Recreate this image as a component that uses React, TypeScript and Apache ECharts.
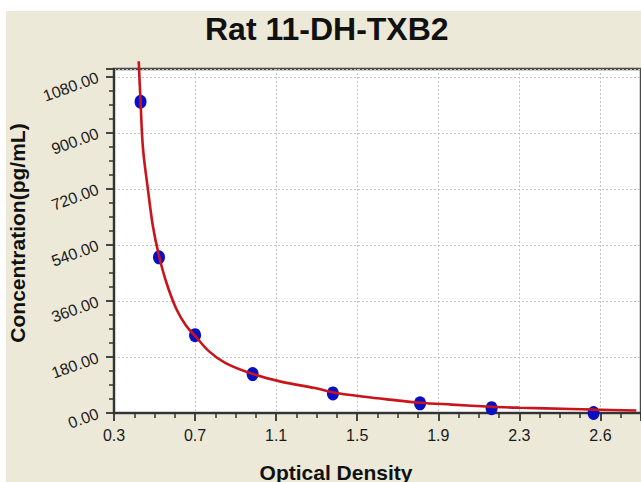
import React, { useEffect, useRef } from "react";
import * as echarts from "echarts";

// Standard points (optical density, concentration pg/mL)
const odPoints = [0.431, 0.522, 0.7, 0.984, 1.38, 1.81, 2.163, 2.666];
const concPoints = [1000, 500, 250, 125, 63, 31, 15.6, 0];

// Fitted curve
const curveOD = [0.422, 0.431, 0.443, 0.468, 0.492, 0.522, 0.558, 0.607, 0.656, 0.7, 0.769, 0.851, 0.985, 1.128, 1.291, 1.382, 1.536, 1.658, 1.81, 1.967, 2.163, 2.3, 2.554, 2.666, 2.877];
const curveConc = [1130, 1000, 850, 715, 600, 505, 420, 335, 280, 248, 198, 160, 125, 100, 80, 66, 52, 43, 33, 27, 20, 17, 13, 11, 8];

// Axis tick labels as printed on the original
const xTickLabels = ["0.3", "0.7", "1.1", "1.5", "1.9", "2.3", "2.6"];
const xOrigin = 0.3;
const xStep = 0.4;
const xMaxOD = 2.9;
const yStep = 180;
const yMax = 1105;

const FONT = "'Liberation Sans', Arial, sans-serif";

export default function App() {
  const ref = useRef<HTMLDivElement>(null);
  useEffect(() => {
    if (!ref.current) return;
    const chart = echarts.init(ref.current, undefined, { renderer: "svg" });
    const pts = odPoints.map((x, i) => [x - xOrigin, concPoints[i]]);
    const curve = curveOD.map((x, i) => [x - xOrigin, curveConc[i]]);
    chart.setOption({
      animation: false,
      backgroundColor: "transparent",
      title: {
        text: "Rat 11-DH-TXB2",
        left: 200,
        top: 8,
        textStyle: { fontSize: 32, fontWeight: "bold", color: "#111", fontFamily: FONT },
      },
      grid: {
        left: 114,
        top: 69,
        width: (xMaxOD - xOrigin) * 204.5,
        height: 344,
        show: true,
        backgroundColor: "#ffffff",
        borderColor: "#4a4a4a",
        borderWidth: 2.5,
      },
      xAxis: {
        type: "value",
        min: 0,
        max: xMaxOD - xOrigin,
        interval: xStep,
        axisLine: { show: true, lineStyle: { color: "#333", width: 2 } },
        axisTick: { show: true, length: 8, lineStyle: { color: "#333", width: 1.8 } },
        minorTick: { show: true, splitNumber: 4, length: 5, lineStyle: { color: "#333", width: 1.5 } },
        splitLine: { show: true, lineStyle: { color: "#c4c4c4", width: 1, type: [2, 2] } },
        axisLabel: {
          margin: 14,
          fontSize: 16,
          color: "#1a1a1a",
          fontFamily: FONT,
          showMaxLabel: false,
          formatter: (v: number) => {
            const i = Math.round(v / xStep);
            return xTickLabels[i] ?? "";
          },
        },
      },
      yAxis: {
        type: "value",
        min: 0,
        max: yMax,
        interval: yStep,
        axisLine: { show: true, lineStyle: { color: "#333", width: 2 } },
        axisTick: { show: true, length: 8, lineStyle: { color: "#333", width: 1.8 } },
        minorTick: { show: true, splitNumber: 4, length: 5, lineStyle: { color: "#333", width: 1.5 } },
        splitLine: { show: true, lineStyle: { color: "#c4c4c4", width: 1, type: [2, 2] } },
        axisLabel: {
          margin: 16,
          rotate: 20,
          fontSize: 16,
          padding: [10, 0, 0, 0],
          color: "#1a1a1a",
          fontFamily: FONT,
          showMaxLabel: false,
          formatter: (v: number) => v.toFixed(2),
        },
      },
      graphic: [
        {
          type: "text",
          x: 17,
          y: 233,
          rotation: Math.PI / 2,
          style: {
            text: "Concentration(pg/mL)",
            fontSize: 21,
            fontWeight: "bold",
            fontFamily: FONT,
            fill: "#111",
            align: "center",
            verticalAlign: "middle",
          },
        },
        {
          type: "text",
          x: 336,
          y: 472,
          style: {
            text: "Optical Density",
            fontSize: 21,
            fontWeight: "bold",
            fontFamily: FONT,
            fill: "#111",
            align: "center",
            verticalAlign: "middle",
          },
        },
      ],
      series: [
        {
          type: "scatter",
          data: pts,
          symbol: "circle",
          symbolSize: [12, 14],
          itemStyle: { color: "#0a0fc4", opacity: 1 },
          z: 2,
        },
        {
          type: "line",
          data: curve,
          showSymbol: false,
          symbol: "none",
          smooth: 0.35,
          clip: false,
          lineStyle: { color: "#c8141a", width: 2.6 },
          z: 3,
        },
      ],
    });
    return () => chart.dispose();
  }, []);

  return (
    <div style={{ position: "fixed", left: 0, top: 0, width: 641, height: 482, background: "#ffffff", overflow: "hidden" }}>
      <div style={{ position: "absolute", left: 6, top: 11, right: 0, bottom: 0, background: "#ECE9D8" }} />
      <div ref={ref} style={{ position: "absolute", left: 0, top: 0, width: 641, height: 482 }} />
    </div>
  );
}
